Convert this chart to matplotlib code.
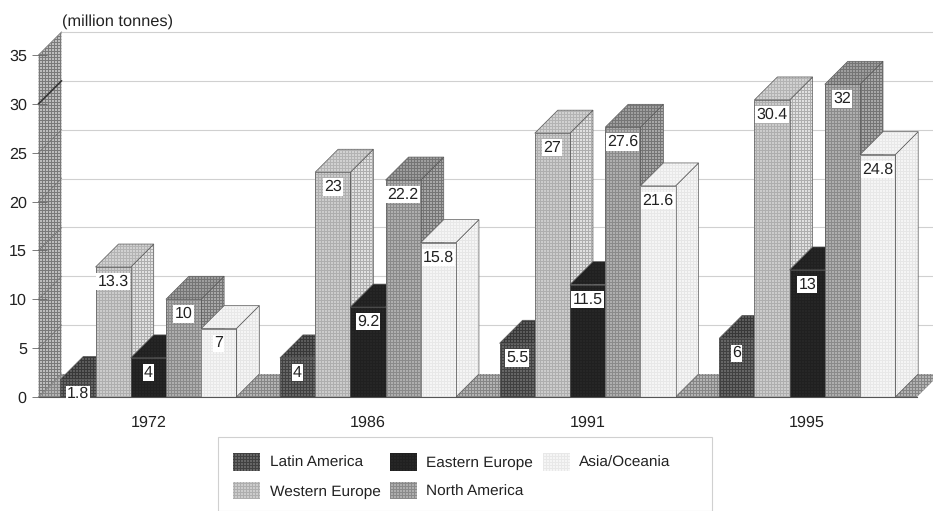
import matplotlib
matplotlib.use("Agg")
import matplotlib.pyplot as plt
import numpy as np
from matplotlib.patches import Patch, Polygon, Rectangle

plt.rcParams['font.family'] = ['Liberation Sans', 'DejaVu Sans']
plt.rcParams['text.hinting'] = 'no_hinting'

# Valeurs du graphique
years = ["1972", "1986", "1991", "1995"]
regions = ["Latin America", "Western Europe", "Eastern Europe", "North America", "Asia/Oceania"]
latin_america = [1.8, 4, 5.5, 6]
western_europe = [13.3, 23, 27, 30.4]
eastern_europe = [4, 9.2, 11.5, 13]
north_america = [10, 22.2, 27.6, 32]
asia_oceania = [7, 15.8, 21.6, 24.8]
series = [latin_america, western_europe, eastern_europe, north_america, asia_oceania]

# Trame de chaque région : (clair, foncé) pour la face, le dessus et le côté
face_tones = [(0.40, 0.26), (0.80, 0.68), (0.15, 0.13), (0.68, 0.54), (0.96, 0.91)]
top_tones = [(0.36, 0.22), (0.82, 0.70), (0.15, 0.13), (0.62, 0.46), (0.96, 0.91)]
side_tones = [(0.36, 0.22), (0.88, 0.68), (0.15, 0.13), (0.66, 0.46), (0.96, 0.90)]

W, H = 933, 511
fig = plt.figure(figsize=(W / 100, H / 100), dpi=100)
# Les axes couvrent le plan avant du graphique
ax = fig.add_axes([38.5 / W, (H - 397) / H, 878.5 / W, 342 / H])
ax.set_xlim(0, 4)
ax.set_ylim(0, 35)
for s in ax.spines.values():
    s.set_visible(False)
ax.patch.set_visible(False)

x_px = 878.5 / 4
y_px = 342 / 35
dx = 23 / x_px
dy = 23 / y_px
bar_w = 35.2 / x_px

# Grille de points de 3 pixels sur toute la figure, utilisée comme trame
yy, xx = np.mgrid[0:H, 0:W]
screen = ((xx % 3 == 0) | (yy % 3 == 0)).astype(float)
full_extent = (-38.5 / x_px, (W - 38.5) / x_px, -(H - 397) / y_px, 397 / y_px)


def stipple(patch, tones, z):
    img = tones[0] + (tones[1] - tones[0]) * screen
    im = ax.imshow(img, cmap="gray", vmin=0, vmax=1, extent=full_extent, origin="lower",
                   aspect="auto", interpolation="nearest", zorder=z)
    im.set_clip_box(fig.bbox)
    im.set_clip_path(patch)
    return im


def poly(pts, tones, edge="#5a5a5a", z=2):
    p = Polygon(pts, closed=True, facecolor="none", edgecolor="none", clip_on=False,
                transform=ax.transData)
    ax.add_patch(p)
    stipple(p, tones, z)
    if edge:
        ax.add_patch(Polygon(pts, closed=True, fill=False, edgecolor=edge, linewidth=0.5,
                             clip_on=False, zorder=z))


# Mur gauche et sol
poly([(0, 0), (dx, dy), (dx, 35 + dy), (0, 35)], (0.74, 0.48), edge=None, z=1)
poly([(0, 0), (dx, dy), (4 + dx, dy), (4, 0)], (0.70, 0.52), edge=None, z=1)

# Lignes de grille sur le fond et diagonales du mur
for v in range(0, 40, 5):
    if v > 0:
        ax.plot([dx, 4 + dx + 0.1], [v + dy, v + dy], color="#d0d0d0", lw=0.8, clip_on=False, zorder=1.5)
    ax.plot([0, dx], [v, v + dy], color="#333333" if v == 30 else "#777777",
            lw=1.1 if v == 30 else 0.6, clip_on=False, zorder=1.5)

# Barres en 3D, dessinées de gauche à droite
z = 3
for g in range(len(years)):
    left = g + 0.5 - 2.5 * bar_w
    for i, vals in enumerate(series):
        x0 = left + i * bar_w
        x1 = x0 + bar_w
        v = vals[g]
        poly([(x1, 0), (x1 + dx, dy), (x1 + dx, v + dy), (x1, v)], side_tones[i], z=z)
        poly([(x0, v), (x1, v), (x1 + dx, v + dy), (x0 + dx, v + dy)], top_tones[i], z=z)
        poly([(x0, 0), (x1, 0), (x1, v), (x0, v)], face_tones[i], z=z)
        z += 1

# Étiquettes de valeur
for g in range(len(years)):
    left = g + 0.5 - 2.5 * bar_w
    for i, vals in enumerate(series):
        ax.annotate(f"{vals[g]:g}", (left + (i + 0.5) * bar_w, vals[g]), xytext=(0, -10.6),
                    textcoords="offset points", ha="center", va="center", fontsize=11.5,
                    color="#222222", zorder=50,
                    bbox=dict(facecolor="white", edgecolor="none", pad=0.8))

# Axe des valeurs et catégories
ax.set_yticks(range(0, 40, 5))
ax.set_xticks([0.5, 1.5, 2.5, 3.5], years)
ax.tick_params(axis="y", direction="inout", length=10.8, width=0.6, color="#666666",
               labelsize=11.6, labelcolor="#222222", pad=3)
ax.tick_params(axis="x", length=0, labelsize=11.6, labelcolor="#222222", pad=13)
ax.plot([0, 4], [0, 0], color="#555555", lw=0.8, clip_on=False, zorder=40)

ax.text(62 / W, 1 - 22 / H, "(million tonnes)", transform=fig.transFigure, fontsize=11.8,
        color="#222222", va="center", ha="left")

# Légende : cadre ouvert vers le bas de la figure, échantillons tramés
ax.add_patch(Rectangle((218 / W, 0), 494 / W, (H - 437) / H, transform=fig.transFigure,
                       facecolor="white", edgecolor="#d0d0d0", linewidth=0.8, clip_on=False,
                       zorder=59))
handles = [Patch(facecolor="none", edgecolor="none") for _ in regions]
leg = ax.legend(handles, regions, ncol=3, fontsize=11.1, loc="upper left",
                bbox_to_anchor=(218 / W, 1 - 438 / H), bbox_transform=fig.transFigure,
                frameon=False, borderaxespad=0,
                handlelength=1.75, handleheight=1.38, handletextpad=0.6,
                columnspacing=0.62, labelspacing=0.68, borderpad=1.0, labelcolor="#222222")
leg.set_zorder(60)
fig.canvas.draw()
for handle, tones in zip(leg.get_patches(), face_tones):
    stipple(handle, tones, 61)

fig.savefig("out.png", dpi=100)
